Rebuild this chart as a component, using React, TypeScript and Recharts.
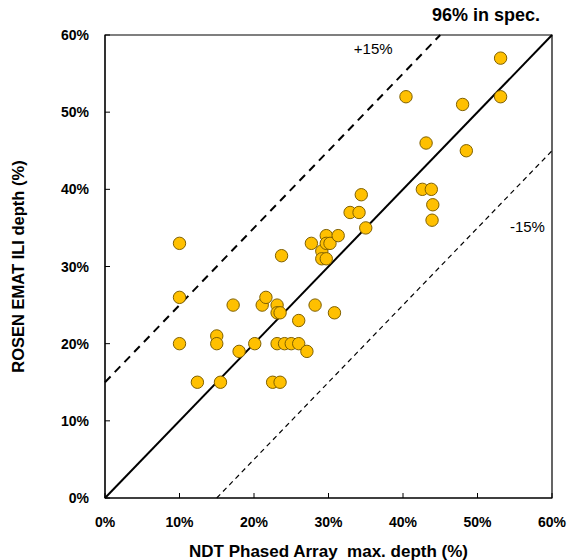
import { ScatterChart, Scatter, XAxis, YAxis, ReferenceLine, ReferenceArea, ReferenceDot } from 'recharts';

const ndtDepth = [10, 10, 10, 12.4, 15, 15, 15.5, 17.2, 18, 20.1, 21.1, 21.6, 22.5, 23.5, 23.1, 23.1, 23.5, 23.1, 23.7, 24.1, 25.0, 26.0, 26.0, 27.1, 27.7, 28.2, 29.1, 29.1, 29.7, 29.7, 29.7, 30.2, 31.3, 30.8, 32.9, 34.1, 34.4, 35.0, 40.4, 42.6, 43.1, 43.8, 44.0, 43.9, 48.0, 48.5, 53.1, 53.1];
const emaDepth = [33, 26, 20, 15, 21, 20, 15, 25, 19, 20, 25, 26, 15, 15, 25, 24, 24, 20, 31.4, 20, 20, 20, 23, 19, 33, 25, 32, 31, 31, 34, 33, 33, 34, 24, 37, 37, 39.3, 35, 52, 40, 46, 40, 38, 36, 51, 45, 57, 52];
const axisTicks = [0, 10, 20, 30, 40, 50, 60];

// tolerance band lines: [x1, y1] -> [x2, y2]
const lineOneToOne = [{ x: 0, y: 0 }, { x: 60, y: 60 }];
const linePlus15 = [{ x: 0, y: 15 }, { x: 45, y: 60 }];
const lineMinus15 = [{ x: 15, y: 0 }, { x: 60, y: 45 }];

const points = ndtDepth.map((x, i) => ({ x, y: emaDepth[i] }));

const font = '"Liberation Sans", Arial, sans-serif';

const XTick = ({ x, y, payload }: any) => (
  <g>
    <line x1={x} y1={y} x2={x} y2={y - 5} stroke="#000" />
    <text x={x} y={y + 29} textAnchor="middle" fontFamily={font} fontWeight="bold" fontSize={14} fill="#000">
      {payload.value}%
    </text>
  </g>
);

const YTick = ({ x, y, payload }: any) => (
  <g>
    <line x1={x} y1={y} x2={x + 5} y2={y} stroke="#000" />
    <text x={x - 16} y={y + 5} textAnchor="end" fontFamily={font} fontWeight="bold" fontSize={14} fill="#000">
      {payload.value}%
    </text>
  </g>
);

const Dot = ({ cx, cy }: any) => (
  <circle cx={cx} cy={cy} r={6.2} fill="#FFC000" stroke="#7F6000" strokeWidth={1} />
);

export default function App() {
  return (
    <div style={{ position: 'absolute', left: 0, top: 0, width: 585, height: 560, background: '#fff' }}>
      <div
        style={{
          position: 'absolute',
          left: 432,
          top: 5,
          fontFamily: font,
          fontWeight: 'bold',
          fontSize: 18,
          whiteSpace: 'nowrap',
        }}
      >
        96% in spec.
      </div>
      <ScatterChart width={585} height={560} margin={{ top: 35, right: 33, left: 0, bottom: 0 }}>
        <XAxis
          type="number"
          dataKey="x"
          domain={[0, 60]}
          ticks={axisTicks}
          height={62}
          tickSize={0}
          tickMargin={0}
          tick={<XTick />}
          stroke="#000"
          label={{
            value: 'NDT Phased Array\u00A0\u00A0max. depth (%)',
            position: 'insideBottom',
            offset: 3,
            fontFamily: font,
            fontWeight: 'bold',
            fontSize: 17,
            fill: '#000',
          }}
        />
        <YAxis
          type="number"
          dataKey="y"
          domain={[0, 60]}
          ticks={axisTicks}
          width={105}
          tickSize={0}
          tickMargin={0}
          tick={<YTick />}
          stroke="#000"
          label={{
            value: 'ROSEN EMAT ILI depth (%)',
            angle: -90,
            position: 'insideLeft',
            offset: 10,
            dx: 8,
            fontFamily: font,
            fontWeight: 'bold',
            fontSize: 16.5,
            fill: '#000',
            style: { textAnchor: 'middle' },
          }}
        />
        <ReferenceArea x1={0} x2={60} y1={0} y2={60} fill="none" stroke="#000" strokeWidth={1.2} />
        <ReferenceLine segment={linePlus15} stroke="#000" strokeWidth={2} strokeDasharray="8 6" />
        <ReferenceLine segment={lineMinus15} stroke="#000" strokeWidth={1.2} strokeDasharray="5 4" />
        <ReferenceLine segment={lineOneToOne} stroke="#000" strokeWidth={2} />
        <ReferenceDot
          x={36}
          y={58.2}
          r={0}
          fill="none"
          stroke="none"
          label={{ value: '+15%', fontFamily: font, fontSize: 15, fill: '#000' }}
        />
        <ReferenceDot
          x={56.7}
          y={35.2}
          r={0}
          fill="none"
          stroke="none"
          label={{ value: '-15%', fontFamily: font, fontSize: 15, fill: '#000' }}
        />
        <Scatter data={points} shape={<Dot />} isAnimationActive={false} />
      </ScatterChart>
    </div>
  );
}
